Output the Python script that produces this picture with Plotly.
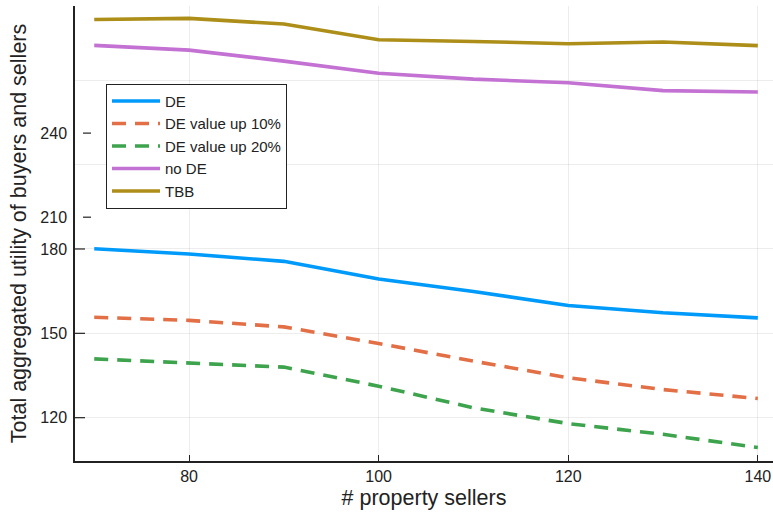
import plotly.graph_objects as go

sellers = [70, 80, 90, 100, 110, 120, 130, 140]
de = [180.1, 178.2, 175.6, 169.3, 164.9, 159.9, 157.3, 155.5]
de_up10 = [155.7, 154.6, 152.3, 146.4, 140.1, 134.2, 130.0, 126.8]
de_up20 = [140.9, 139.5, 138.0, 131.2, 123.5, 117.9, 114.1, 109.4]
no_de = [252.4, 250.7, 246.8, 242.5, 240.4, 239.1, 236.3, 235.8]
tbb = [261.6, 262.0, 260.0, 254.4, 253.8, 253.0, 253.6, 252.3]

# y tick positions (axis is visually broken: labels 210/240 sit on shifted positions)
y_tick_vals = [120, 150, 180, 191.3, 221.2]
y_tick_text = ["120", "150", "180", "210", "240"]
y_tick_is_break = [False, False, False, True, True]

x_tick_vals = [80, 100, 120, 140]

series = [
    ("DE", de, "#009AFA", "solid"),
    ("DE value up 10%", de_up10, "#E26F46", "14px,9px"),
    ("DE value up 20%", de_up20, "#3DA44D", "14px,9px"),
    ("no DE", no_de, "#C371D2", "solid"),
    ("TBB", tbb, "#AC8E18", "solid"),
]

fig = go.Figure()
for name, vals, color, dash in series:
    fig.add_trace(go.Scatter(x=sellers, y=vals, mode="lines", name=name,
                             line=dict(color=color, width=3.6, dash=dash)))

# invisible trace to attach the grid axis
fig.add_trace(go.Scatter(x=[sellers[0]], y=[de[0]], yaxis="y2", mode="markers",
                         marker=dict(opacity=0), showlegend=False, hoverinfo="skip"))

font_family = "Liberation Sans, Arial, Helvetica, sans-serif"
yrange = [104.6, 266.4]

shapes = []
for v, brk in zip(y_tick_vals, y_tick_is_break):
    x0, x1 = (8, 16) if brk else (0, 10)
    shapes.append(dict(type="line", xref="paper", xsizemode="pixel", xanchor=0,
                       x0=x0, x1=x1, yref="y", y0=v, y1=v,
                       line=dict(color="#222222", width=1.2)))

fig.update_layout(
    width=773, height=514,
    margin=dict(l=75, r=0, t=6, b=53),
    paper_bgcolor="white", plot_bgcolor="white",
    font=dict(family=font_family, color="#222222", size=16),
    showlegend=True,
    legend=dict(x=0.0444, y=0.829, xanchor="left", yanchor="top",
                bgcolor="white", bordercolor="#222222", borderwidth=1,
                font=dict(size=15, color="#222222"), tracegroupgap=0,
                itemwidth=48),
    xaxis=dict(range=[67.97, 141.6], tickvals=x_tick_vals, ticks="inside", ticklen=6,
               tickcolor="#222222", showline=True, linecolor="#222222", linewidth=1.5,
               showgrid=True, gridcolor="rgba(0,0,0,0.07)", gridwidth=1, zeroline=False,
               tickfont=dict(size=16),
               title=dict(text="# property sellers", font=dict(size=21.5), standoff=6)),
    yaxis=dict(range=yrange, tickvals=y_tick_vals, ticktext=y_tick_text, ticks="",
               showline=True, linecolor="#222222", linewidth=1.5, showgrid=False,
               zeroline=False, tickfont=dict(size=16), ticklabelstandoff=3,
               title=dict(text="Total aggregated utility of buyers and sellers",
                          font=dict(size=21.5), standoff=8)),
    yaxis2=dict(range=yrange, overlaying="y", side="left", tick0=120, dtick=30,
                showticklabels=False, ticks="", showgrid=True,
                gridcolor="rgba(0,0,0,0.07)", gridwidth=1, zeroline=False, showline=False),
    shapes=shapes,
)

fig.write_html("out.html", post_script="document.body.style.margin='0';",
               config={"displayModeBar": False})
